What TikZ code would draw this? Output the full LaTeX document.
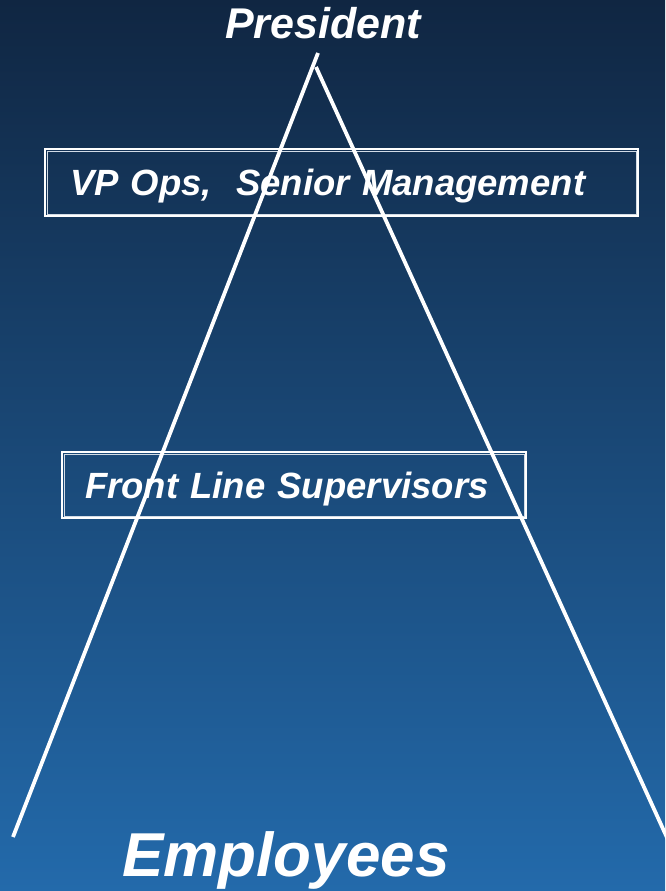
\documentclass[tikz,border=0pt]{standalone}
\usepackage{fontspec}
\setmainfont{Liberation Sans}
\usetikzlibrary{positioning}
\definecolor{bgtop}{RGB}{16,38,66}
\definecolor{bgmid}{RGB}{28,79,128}
\definecolor{bgbot}{RGB}{35,106,171}

\begin{document}
\begin{tikzpicture}[x=1pt,y=-1pt,
					level/.style={draw=white,line width=1.2pt,text=white,
						font=\bfseries\itshape\fontsize{36.5}{40}\selectfont,
						inner ysep=0pt,text depth=0pt,align=left},
					title/.style={text=white,font=\bfseries\itshape},
					side/.style={draw=white,line width=3.8pt}]
					\tikzstyle{inner rim}=[draw=white!80!bgmid,line width=0.6pt]
					
					\shade[top color=bgtop,middle color=bgmid,bottom color=bgbot] (0,0) rectangle (665,891);
					\useasboundingbox (0,0) rectangle (665,891);
					
					% levels of the organisation
					\node[level,minimum width=593pt,minimum height=67pt,text width=543pt,inner xsep=25pt]
						(vp) at (341.5,182.5) {VP Ops,\ \ Senior Management};
					\node[level,minimum width=464pt,minimum height=66pt,text width=418pt,inner xsep=23pt]
						(fls) at (294,485) {Front Line Supervisors};
					\draw[inner rim] ([xshift=2.5pt,yshift=-2.5pt]vp.north west) rectangle ([xshift=-2.5pt,yshift=2.5pt]vp.south east);
					\draw[inner rim] ([xshift=2.5pt,yshift=-2.5pt]fls.north west) rectangle ([xshift=-2.5pt,yshift=2.5pt]fls.south east);
					
					\node[title,font=\bfseries\itshape\fontsize{43}{47}\selectfont,anchor=base]
						(pres) at (323,39) {President};
					\node[title,font=\bfseries\itshape\fontsize{62}{68}\selectfont,anchor=base]
						(emp) at (286,876) {Employees};
					
					% the two sides of the pyramid
					\coordinate (apexL) at (318,53);
					\coordinate (baseL) at (13,837);
					\coordinate (apexR) at (316,67);
					\coordinate (baseR) at (669,842);
					\draw[side] (apexL) -- (baseL);
					\draw[side] (apexR) -- (baseR);
\end{tikzpicture}
\end{document}
